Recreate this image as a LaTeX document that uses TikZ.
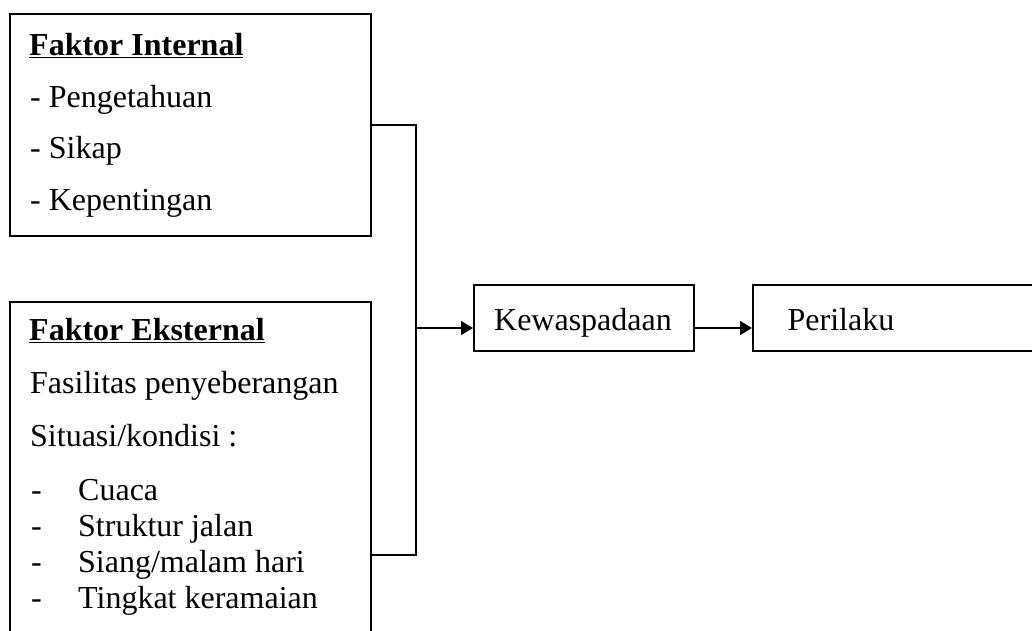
\documentclass[tikz,border=0pt]{standalone}
\usepackage{fontspec}
\setmainfont{Liberation Serif}
\usetikzlibrary{arrows.meta,calc}
\tikzset{
  box/.style={draw,line width=1.6pt,rectangle,inner sep=0pt,anchor=north west},
  txt/.style={inner sep=0pt,anchor=base west,font=\fontsize{32}{38}\selectfont},
  conn/.style={line width=1.6pt},
  arr/.style={line width=1.6pt,-{Triangle[length=12pt,width=14pt]}}
}
\begin{document}
\begin{tikzpicture}[x=1pt,y=-1pt]
\useasboundingbox (0,0) rectangle (1032,630);
\clip (0,0) rectangle (1032,630);
% boxes
\node[box,minimum width=361pt,minimum height=222pt] (int) at (9,13) {};
\node[box,minimum width=361pt,minimum height=360pt] (ext) at (9,301) {};
\node[box,minimum width=220pt,minimum height=66pt] (kew) at (473,284) {};
\node[box,minimum width=300pt,minimum height=66pt] (per) at (752,284) {};
% texts box 1
\node[txt] (t1) at (29,55) {\textbf{\underline{Faktor Internal}}};
\node[txt] (t2) at (30,107) {- Pengetahuan};
\node[txt] (t3) at (30,158) {- Sikap};
\node[txt] (t4) at (30,210) {- Kepentingan};
% texts box 2
\node[txt] (e1) at (29,340) {\textbf{\underline{Faktor Eksternal}}};
\node[txt] (e2) at (30,393) {Fasilitas penyeberangan};
\node[txt] (e3) at (30,446) {Situasi/kondisi :};
\node[txt] (d1) at (31,500) {-};
\node[txt] (i1) at (78,500) {Cuaca};
\node[txt] (d2) at (31,536) {-};
\node[txt] (i2) at (78,536) {Struktur jalan};
\node[txt] (d3) at (31,572) {-};
\node[txt] (i3) at (78,572) {Siang/malam hari};
\node[txt] (d4) at (31,608) {-};
\node[txt] (i4) at (78,608) {Tingkat keramaian};
% right labels
\node[txt,anchor=base] (kt) at (583,330) {Kewaspadaan};
\node[txt,anchor=base] (pt) at (841,330) {Perilaku};
% connectors
\coordinate (j) at (416,328);
\coordinate (extout) at (370,555);
\draw[conn] (int.east) -| (j) |- (extout);
\draw[arr] (j) -- (kew.west |- j);
\draw[arr] (kew.east |- j) -- (per.west |- j);
\end{tikzpicture}
\end{document}
